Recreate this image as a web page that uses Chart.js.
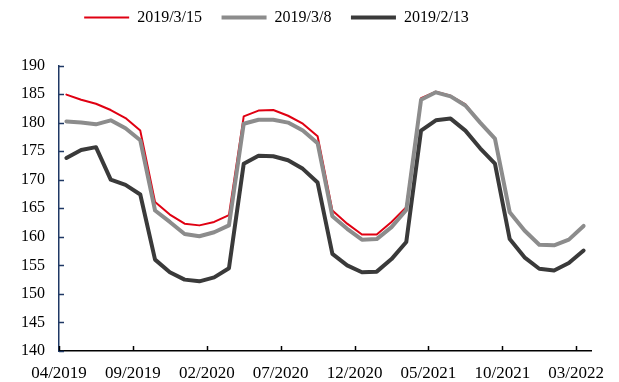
<!DOCTYPE html>
<html>
<head>
<meta charset="utf-8">
<script src="https://cdn.jsdelivr.net/npm/chart.js@4"></script>
<style>
  html, body { margin: 0; padding: 0; background: #fff; }
  #wrap { width: 619px; height: 382px; }
</style>
</head>
<body>
<div id="wrap"><canvas id="chart" width="619" height="382"></canvas></div>
<script>
// months on the x axis, one per point
const months = ['04/2019','05/2019','06/2019','07/2019','08/2019','09/2019','10/2019','11/2019','12/2019',
  '01/2020','02/2020','03/2020','04/2020','05/2020','06/2020','07/2020','08/2020','09/2020','10/2020','11/2020','12/2020',
  '01/2021','02/2021','03/2021','04/2021','05/2021','06/2021','07/2021','08/2021','09/2021','10/2021','11/2021','12/2021',
  '01/2022','02/2022','03/2022'];

const seriesNames = ['2019/3/15', '2019/3/8', '2019/2/13'];

const mar15 = [184.9,184.0,183.3,182.2,180.8,178.6,166.1,163.9,162.3,162.0,162.6,163.8,
  181.1,182.1,182.2,181.2,179.8,177.6,164.6,162.3,160.4,160.4,162.6,165.2,
  184.3,185.4,184.7,183.2,180.0,177.2,164.3,161.1,158.6,158.5,159.5,161.9];
const mar8 = [180.2,180.0,179.7,180.4,179.0,176.9,164.6,162.6,160.5,160.1,160.8,162.0,
  179.8,180.5,180.5,180.0,178.6,176.4,163.6,161.4,159.5,159.6,161.7,164.7,
  184.0,185.3,184.6,183.0,180.0,177.2,164.3,161.1,158.6,158.5,159.5,161.9];
const feb13 = [173.8,175.2,175.7,170.0,169.1,167.4,156.0,153.8,152.5,152.2,152.9,154.5,
  172.8,174.2,174.1,173.4,171.9,169.5,157.0,155.0,153.8,153.9,156.1,159.1,
  178.6,180.4,180.7,178.6,175.5,172.8,159.6,156.4,154.4,154.1,155.4,157.6];

// points sit in the middle of each month slot
function toPoints(arr) {
  return arr.map((v, i) => ({ x: i + 0.5, y: v }));
}

const serif = 'Liberation Serif';

// inward tick marks + legend nudge
const extras = {
  id: 'extras',
  afterLayout(chart) {
    const lg = chart.legend;
    lg.left -= 19; lg.right -= 19;
    lg.top -= 30; lg.bottom -= 30;
  },
  afterDraw(chart) {
    const ctx = chart.ctx;
    const xs = chart.scales.x, ys = chart.scales.y;
    ctx.save();
    ctx.lineWidth = 1.5;
    ctx.strokeStyle = '#1f3864';
    ys.ticks.forEach(t => {
      const py = Math.round(ys.getPixelForValue(t.value)) + 0.5;
      ctx.beginPath();
      ctx.moveTo(ys.right, py);
      ctx.lineTo(ys.right + 5, py);
      ctx.stroke();
    });
    ctx.strokeStyle = '#000';
    xs.ticks.forEach(t => {
      const px = Math.round(xs.getPixelForValue(t.value)) + 0.5;
      ctx.beginPath();
      ctx.moveTo(px, xs.top);
      ctx.lineTo(px, xs.top - 5);
      ctx.stroke();
    });
    ctx.restore();
  }
};

new Chart(document.getElementById('chart'), {
  type: 'line',
  data: {
    datasets: [
      { label: seriesNames[0], data: toPoints(mar15), borderColor: '#e00012', backgroundColor: '#e00012', borderWidth: 2, order: 3 },
      { label: seriesNames[1], data: toPoints(mar8), borderColor: '#8c8c8c', backgroundColor: '#8c8c8c', borderWidth: 4, order: 2 },
      { label: seriesNames[2], data: toPoints(feb13), borderColor: '#3a3a3a', backgroundColor: '#3a3a3a', borderWidth: 4, order: 1 }
    ]
  },
  options: {
    responsive: false,
    animation: false,
    layout: { padding: { left: 0, right: 28, top: 20, bottom: 0 } },
    elements: {
      point: { radius: 0, hoverRadius: 0 },
      line: { tension: 0, borderCapStyle: 'round', borderJoinStyle: 'round' }
    },
    plugins: {
      tooltip: { enabled: false },
      legend: {
        position: 'top',
        labels: {
          usePointStyle: true,
          pointStyle: 'line',
          pointStyleWidth: 45,
          padding: 19.5,
          color: '#000',
          font: { family: serif, size: 16 },
          sort: (a, b) => a.datasetIndex - b.datasetIndex
        }
      }
    },
    scales: {
      x: {
        type: 'linear',
        min: 0,
        max: 36,
        afterFit: s => { s.height = 31; },
        grid: { display: false, drawTicks: false },
        border: { display: true, color: '#000', width: 1.5 },
        ticks: {
          stepSize: 5,
          includeBounds: false,
          autoSkip: false,
          maxRotation: 0,
          padding: 12,
          color: '#000',
          font: { family: serif, size: 17 },
          callback: v => months[v]
        }
      },
      y: {
        min: 140,
        max: 190,
        afterFit: s => { s.width = 59; },
        grid: { display: false, drawTicks: false },
        border: { display: true, color: '#1f3864', width: 1.5 },
        ticks: {
          stepSize: 5,
          padding: 14,
          color: '#000',
          font: { family: serif, size: 16 }
        }
      }
    }
  },
  plugins: [extras]
});
</script>
</body>
</html>
